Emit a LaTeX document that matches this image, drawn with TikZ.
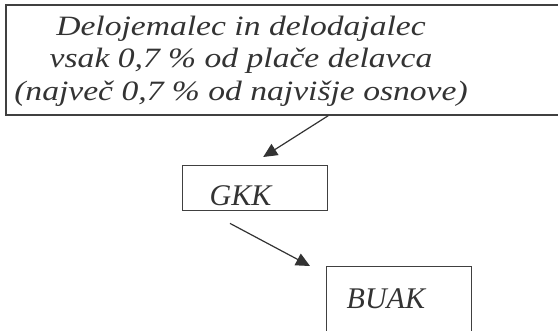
\documentclass[tikz,border=0pt]{standalone}
\usepackage{fontspec}
\setmainfont{Liberation Serif}
\newfontfamily\widefont[FakeStretch=1.2]{Liberation Serif}
\usetikzlibrary{arrows.meta, positioning}
\definecolor{box-gray}{HTML}{404040}
\definecolor{text-gray}{HTML}{333333}

\begin{document}
\begin{tikzpicture}[
    x=1pt, y=-1pt,
    bigbox/.style={draw=box-gray, line width=1.6pt, anchor=north west, minimum width=562pt, minimum height=110pt},
    box/.style={draw=box-gray, line width=1.4pt, inner sep=0pt, anchor=north west, align=left, text width=145pt, font=\itshape\fontsize{30}{32}\selectfont, text=text-gray},
    caption/.style={align=center, font=\widefont\itshape\fontsize{28}{32.5}\selectfont, text=text-gray},
    arrow/.style={-{Triangle[length=14pt,width=13pt]}, line width=1.2pt, text-gray}
]
    \useasboundingbox (0,0) rectangle (558,331);

    \node[bigbox] (fund) at (5,4) {};
    \node[caption] (fundtext) at (241,61) {Delojemalec in delodajalec\\vsak 0,7 \% od plače delavca\\(največ 0,7 \% od najvišje osnove)};
    \node[box, text height=40pt, text depth=5pt] (gkk) at (182,165) {\hspace*{27pt}GKK};
    \node[box, text height=42pt, text depth=32pt] (buak) at (326,266) {\hspace*{20pt}BUAK};

    \draw[arrow] (fund.south -| gkk.east) -- ([xshift=8pt,yshift=8pt]gkk.north);
    \draw[arrow] ([xshift=48pt,yshift=-12pt]gkk.south west) -- ([xshift=-16pt]buak.north west);
\end{tikzpicture}
\end{document}
